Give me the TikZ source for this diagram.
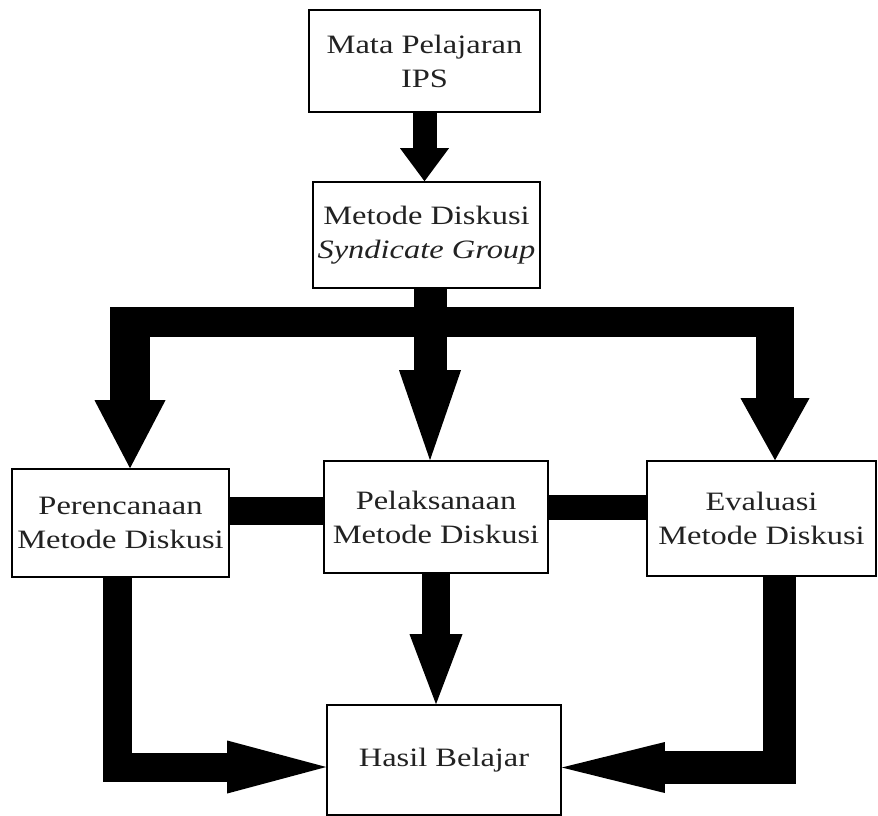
\documentclass[tikz,border=0pt]{standalone}
\usepackage{fontspec}
\setmainfont[FakeStretch=1.225]{Liberation Serif}
\usetikzlibrary{arrows.meta}
\definecolor{txt}{HTML}{222222}
\begin{document}
\begin{tikzpicture}[x=1pt,y=-1pt,
  box/.style={draw=black, line width=1.6pt, fill=white, inner sep=0pt, align=center,
    text=txt, font=\fontsize{26.5pt}{34pt}\selectfont},
  shaft/.style={draw=black, line width=#1, line cap=butt, line join=miter},
  tip/.style n args={2}{-{Triangle[length=#1,width=#2,line width=0pt]}}
  ]
\useasboundingbox (0,0) rectangle (878,816);
\fill[white] (0,0) rectangle (878,816);

% boxes
\node[box, minimum width=231pt, minimum height=102pt] (b1) at (424.5,61) {Mata Pelajaran\\IPS};
\node[box, minimum width=227pt, minimum height=106pt] (b2) at (426.5,235) {Metode Diskusi\\\textit{Syndicate Group}};
\node[box, minimum width=217pt, minimum height=108pt] (b3) at (120.5,523) {Perencanaan\\Metode Diskusi};
\node[box, minimum width=224pt, minimum height=112pt] (b4) at (436,517) {Pelaksanaan\\Metode Diskusi};
\node[box, minimum width=229pt, minimum height=115pt] (b5) at (761.5,518.5) {Evaluasi\\Metode Diskusi};
\node[box, minimum width=234pt, minimum height=110pt] (b6) at (444,760) {Hasil Belajar};

% coordinates
\coordinate (barL) at (110,322);
\coordinate (barR) at (794,322);
\coordinate (legL) at (130,307);
\coordinate (legR) at (775,307);
\coordinate (cL) at (117,767);
\coordinate (cR) at (779.5,767.5);

% top arrow
\draw[shaft=24pt, tip={33pt}{49pt}] (b1.south) -- (b1.south |- b2.north);

% distribution bar
\draw[shaft=30pt] (barL) -- (barR);
\draw[shaft=33pt, tip={90pt}{62pt}] ([xshift=3.5pt]b2.south) -- ([xshift=-6pt]b4.north);
\draw[shaft=40pt, tip={68pt}{71pt}] (legL) -- (legL |- b3.north);
\draw[shaft=38pt, tip={62pt}{69pt}] (legR) -- (legR |- b5.north);

% links between middle boxes
\draw[shaft=28pt] ([yshift=12pt]b3.east) -- ([yshift=12pt]b3.east -| b4.west);
\draw[shaft=25pt] ([yshift=9.5pt]b4.east) -- ([yshift=9.5pt]b4.east -| b5.west);

% to result
\draw[shaft=28pt, tip={70pt}{53pt}] (b4.south) -- (b4.south |- b6.north);
\draw[shaft=29pt, tip={99pt}{53pt}] (b3.south -| cL) -- (cL) -- (cL -| b6.west);
\draw[shaft=33pt, tip={103pt}{51pt}] (b5.south -| cR) -- (cR) -- (cR -| b6.east);
\end{tikzpicture}
\end{document}
